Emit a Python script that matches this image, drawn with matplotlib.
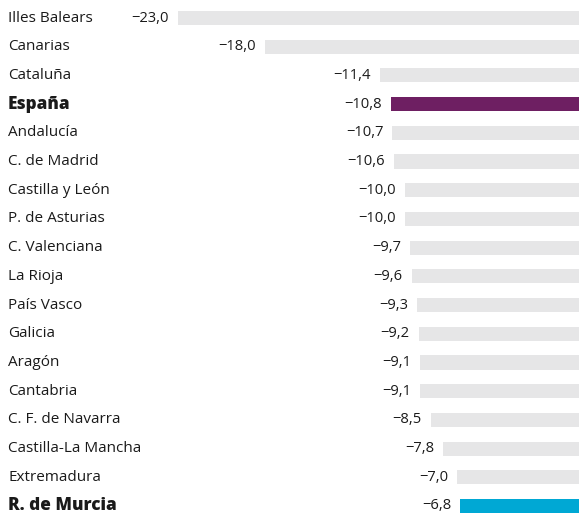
import matplotlib
matplotlib.use("Agg")
from matplotlib import pyplot as plt
import matplotlib.transforms as mtransforms

regiones = ["Illes Balears", "Canarias", "Cataluña", "España", "Andalucía",
            "C. de Madrid", "Castilla y León", "P. de Asturias", "C. Valenciana",
            "La Rioja", "País Vasco", "Galicia", "Aragón", "Cantabria",
            "C. F. de Navarra", "Castilla-La Mancha", "Extremadura", "R. de Murcia"]
valores = [-23.0, -18.0, -11.4, -10.8, -10.7, -10.6, -10.0, -10.0, -9.7,
           -9.6, -9.3, -9.2, -9.1, -9.1, -8.5, -7.8, -7.0, -6.8]
destacados = {"España": "#6e1f62", "R. de Murcia": "#00a8d4"}

plt.rcParams['font.family'] = ['Open Sans', 'DejaVu Sans']

fig = plt.figure(figsize=(5.79, 5.16), dpi=100)
ax = fig.add_axes([0, 0, 1, 1])

y = list(range(len(regiones)))
colores = [destacados.get(r, "#e6e6e7") for r in regiones]
ax.barh(y, valores, height=0.49, color=colores, align='center')

px = 401 / 23.0  # pixels per unit
ax.set_xlim(-579 / px, 0)
ax.set_ylim(17 + 10 / 28.7, -18 / 28.7)

trans = mtransforms.blended_transform_factory(ax.transAxes, ax.transData)
for i, (r, v) in enumerate(zip(regiones, valores)):
    if r in destacados:
        ax.text(8 / 579, i, r, transform=trans, ha='left', va='center',
                fontsize=12.3, color='#1a1a1a', fontweight='heavy')
    else:
        ax.text(8 / 579, i, r, transform=trans, ha='left', va='center',
                fontsize=11, color='#1a1a1a')
    ax.text(v - 9 / px, i, ("\u2212%.1f" % abs(v)).replace('.', ','),
            ha='right', va='center', fontsize=10.6, color='#1a1a1a')

ax.axis('off')
fig.savefig("out.png", dpi=100)
